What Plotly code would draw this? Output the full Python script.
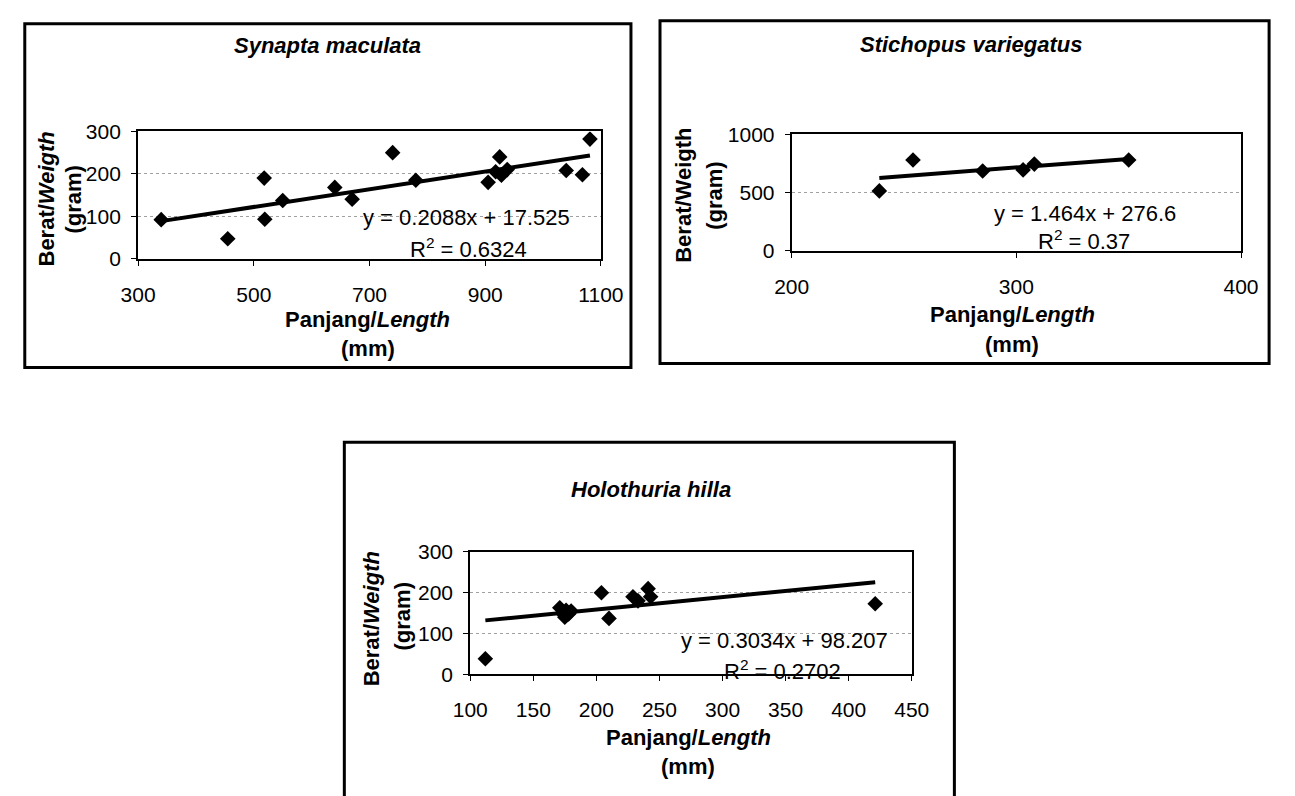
import plotly.graph_objects as go

# ---------------- data ----------------
titles = ["Synapta maculata", "Stichopus variegatus", "Holothuria hilla"]

synapta_length = [340, 455, 518, 519, 550, 640, 670, 740, 780, 905, 925, 918, 928, 938, 1040, 1068, 1081]
synapta_weight = [92, 47, 190, 93, 137, 168, 140, 250, 185, 180, 240, 205, 197, 210, 208, 198, 282]

stichopus_length = [239, 254, 285, 303, 308, 350]
stichopus_weight = [515, 780, 685, 695, 745, 780]

holothuria_length = [112, 171, 173, 175, 176, 178, 180, 204, 210, 229, 233, 241, 243, 421]
holothuria_weight = [38, 163, 150, 140, 157, 148, 155, 200, 137, 190, 180, 210, 190, 173]

trend_slope = [0.2088, 1.464, 0.3034]
trend_intercept = [17.525, 276.6, 98.207]
eq_labels = ["y = 0.2088x + 17.525", "y = 1.464x + 276.6", "y = 0.3034x + 98.207"]
r2_labels = ["R<sup>2</sup> = 0.6324", "R<sup>2</sup> = 0.37", "R<sup>2</sup> = 0.2702"]

x_ranges = [[300, 1100], [200, 400], [100, 450]]
x_dticks = [200, 100, 50]
y_ranges = [[0, 300], [0, 1000], [0, 300]]
y_dticks = [100, 500, 100]

# ---------------- layout helpers (pixel -> paper) ----------------
W, H = 1295, 796
def px(x):
    return x / W
def py(y):
    return 1 - y / H

FONT = "Liberation Sans, Arial, sans-serif"
TICK_FS = 21
TEXT_FS = 22

plots = [  # plot-area pixel boxes (x0, y0, x1, y1)
    (124, 123, 602, 254),
    (799, 126, 1263, 246),
    (467, 556, 923, 682),
]
frames = [
    (7, 12, 633, 366),
    (663, 9, 1292, 362),
    (337, 443, 967, 830),
]
title_pos = [(320, 35), (985, 33), (654, 492)]
xt1_pos = [(361, 317), (1027, 312), (692, 747)]
xt2_pos = [(361, 347), (1027, 342), (692, 777)]
yt1_pos = [(29, 193), (687, 189), (366, 625)]
yt2_pos = [(57, 193), (719, 189), (397, 622)]
eq_pos = [(463, 212), (1102, 207), (792, 647)]
r2_pos = [(465, 243), (1101, 235), (789, 678)]
ytitle_text = ["<b>Berat/<i>Weigth</i></b>", "<b>Berat/Weigth</b>", "<b>Berat/<i>Weigth</i></b>"]

lengths = [synapta_length, stichopus_length, holothuria_length]
weights = [synapta_weight, stichopus_weight, holothuria_weight]

fig = go.Figure()
annotations = []
shapes = []
layout_axes = {}


def ann(text, pos, size=TEXT_FS, angle=0):
    annotations.append(dict(text=text, x=px(pos[0]), y=py(pos[1]), xref="paper", yref="paper",
                            showarrow=False, xanchor="center", yanchor="middle", textangle=angle,
                            font=dict(family=FONT, size=size, color="black")))


for i in range(3):
    sfx = "" if i == 0 else str(i + 1)
    xa, ya = "x" + sfx, "y" + sfx
    fig.add_trace(go.Scatter(
        x=lengths[i], y=weights[i], mode="markers", xaxis=xa, yaxis=ya,
        marker=dict(symbol="diamond", size=12, color="black"),
        showlegend=False, hoverinfo="x+y"))
    xmin, xmax = min(lengths[i]), max(lengths[i])
    fig.add_trace(go.Scatter(
        x=[xmin, xmax],
        y=[trend_slope[i] * xmin + trend_intercept[i], trend_slope[i] * xmax + trend_intercept[i]],
        mode="lines", xaxis=xa, yaxis=ya,
        line=dict(color="black", width=4), showlegend=False, hoverinfo="skip"))

    x0, y0, x1, y1 = plots[i]
    common = dict(showline=True, linecolor="black", linewidth=2, mirror=True,
                  ticks="outside", ticklen=5, tickwidth=1.3, tickcolor="black",
                  tickfont=dict(family=FONT, size=TICK_FS, color="black"), zeroline=False)
    layout_axes["xaxis" + sfx] = dict(
        domain=[px(x0), px(x1)], anchor=ya, range=x_ranges[i], dtick=x_dticks[i],
        tick0=x_ranges[i][0], showgrid=False, ticklabelstandoff=11, **common)
    layout_axes["yaxis" + sfx] = dict(
        domain=[py(y1), py(y0)], anchor=xa, range=y_ranges[i], dtick=y_dticks[i],
        showgrid=True, gridcolor="#a0a0a0", griddash="dot", gridwidth=1,
        ticklabelstandoff=6, **common)

    fx0, fy0, fx1, fy1 = frames[i]
    shapes.append(dict(type="rect", xref="paper", yref="paper",
                       x0=px(fx0), x1=px(fx1), y0=py(fy1), y1=py(fy0),
                       line=dict(color="black", width=3), fillcolor="rgba(0,0,0,0)",
                       layer="below"))

    ann("<b><i>" + titles[i] + "</i></b>", title_pos[i])
    ann("<b>Panjang/<i>Length</i></b>", xt1_pos[i])
    ann("<b>(mm)</b>", xt2_pos[i])
    ann(ytitle_text[i], yt1_pos[i], angle=-90)
    ann("<b>(gram)</b>", yt2_pos[i], angle=-90)
    ann(eq_labels[i], eq_pos[i])
    ann(r2_labels[i], r2_pos[i])

fig.update_layout(
    width=W, height=H, autosize=False,
    margin=dict(l=0, r=0, t=0, b=0),
    paper_bgcolor="white", plot_bgcolor="white",
    font=dict(family=FONT, size=TEXT_FS, color="black"),
    annotations=annotations, shapes=shapes,
    **layout_axes)

fig.write_html("out.html", config={"displayModeBar": False},
               post_script="document.body.style.margin='0';")
